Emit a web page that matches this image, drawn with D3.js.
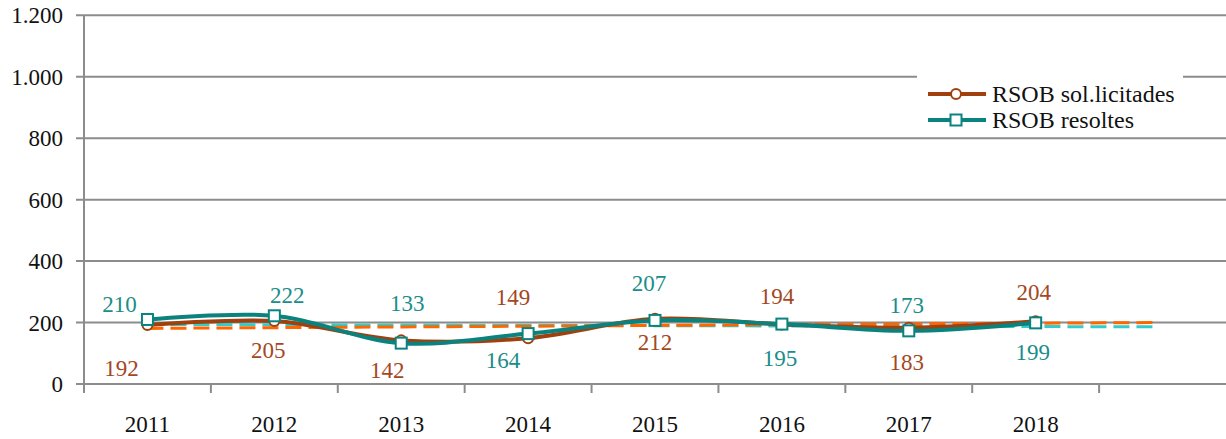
<!DOCTYPE html>
<html><head><meta charset="utf-8">
<script src="https://cdn.jsdelivr.net/npm/d3@7"></script>
</head><body style="margin:0;background:#fff"><svg id="c" width="1226" height="439" style="display:block"></svg>
<script>
const categories = ["2011","2012","2013","2014","2015","2016","2017","2018"];
const solValues = [192,205,142,149,212,194,183,204];
const resValues = [210,222,133,164,207,195,173,199];
const yTicks = [0,200,400,600,800,1000,1200];
const yTickLabels = ["0","200","400","600","800","1.000","1.200"];
const seriesNames = ["RSOB sol.licitades","RSOB resoltes"];
// trend lines: value at first category and at one period beyond last
const solTrend = [181,200];
const resTrend = [194,186];
// label placement offsets (layout, px)
const solLabelDx = [-26,-6,-14,-15,0,-5,-2,-2];
const solLabelDy = [43,29,30,-41,23,-28,34,-29];
const resLabelDx = [-28,13,6,-25,-6,-2,-2,-3];
const resLabelDy = [-15,-21,-40,26,-37,34,-26,29];

const FF = "Liberation Serif";
const svg = d3.select("#c");
const L=84, R=1226, T=15.3, B=384;
const slots = categories.concat([""]);
const x = d3.scaleBand().domain(slots).range([L,R]);
const cx = c => x(c)+x.bandwidth()/2;
const y = d3.scaleLinear().domain([0,1200]).range([B,T]);
const grid="#8c8c8c";
const cSol="#a0400f", cRes="#0a837e", cSolLbl="#a3481f", cResLbl="#1b8d8a";
const FS = 23;
function txt(sel,size){ return sel.attr("font-family",FF).style("font-family","'Liberation Serif'").attr("font-size",size); }

svg.append("g").selectAll("line").data(yTicks).join("line")
  .attr("x1",L-8).attr("x2",R).attr("y1",d=>y(d)).attr("y2",d=>y(d))
  .attr("stroke",grid).attr("stroke-width",2);
svg.append("line").attr("x1",L).attr("x2",L).attr("y1",T).attr("y2",B+1).attr("stroke",grid).attr("stroke-width",2);
yTicks.forEach((d,i)=>{
  txt(svg.append("text"),FS).attr("x",63).attr("y",y(d)+8).attr("text-anchor","end").attr("fill","#111").text(yTickLabels[i]);
});
svg.append("g").selectAll("line").data(categories).join("line")
  .attr("x1",d=>x(d)+x.bandwidth()).attr("x2",d=>x(d)+x.bandwidth())
  .attr("y1",B).attr("y2",B+9).attr("stroke",grid).attr("stroke-width",2);
svg.append("line").attr("x1",L).attr("x2",L).attr("y1",B).attr("y2",B+9).attr("stroke",grid).attr("stroke-width",2);
categories.forEach(d=>{
  txt(svg.append("text"),FS).attr("x",cx(d)).attr("y",432).attr("text-anchor","middle").attr("fill","#111").text(d);
});

function trend(vals,color){
  svg.append("line").attr("x1",cx(categories[0])).attr("y1",y(vals[0]))
    .attr("x2",cx("")-6).attr("y2",y(vals[1]))
    .attr("stroke",color).attr("stroke-width",3).attr("stroke-dasharray","16,7");
}
trend(resTrend,"#33cccc");
trend(solTrend,"#ff6600");

const line = d3.line().x((d,i)=>cx(categories[i])).y(d=>y(d)).curve(d3.curveCatmullRom.alpha(0));
svg.append("path").attr("d",line(solValues)).attr("fill","none").attr("stroke",cSol).attr("stroke-width",4);
svg.append("g").selectAll("circle").data(solValues).join("circle")
  .attr("cx",(d,i)=>cx(categories[i])).attr("cy",d=>y(d)).attr("r",5)
  .attr("fill","#fff").attr("stroke",cSol).attr("stroke-width",2);
svg.append("path").attr("d",line(resValues)).attr("fill","none").attr("stroke",cRes).attr("stroke-width",4);
svg.append("g").selectAll("rect").data(resValues).join("rect")
  .attr("x",(d,i)=>cx(categories[i])-5.5).attr("y",d=>y(d)-5.5).attr("width",11).attr("height",11)
  .attr("fill","#fff").attr("stroke",cRes).attr("stroke-width",2);

solValues.forEach((d,i)=>{
  txt(svg.append("text"),FS).attr("x",cx(categories[i])+solLabelDx[i]).attr("y",y(d)+solLabelDy[i]+8)
    .attr("text-anchor","middle").attr("fill",cSolLbl).text(d);
});
resValues.forEach((d,i)=>{
  txt(svg.append("text"),FS).attr("x",cx(categories[i])+resLabelDx[i]).attr("y",y(d)+resLabelDy[i]+8)
    .attr("text-anchor","middle").attr("fill",cResLbl).text(d);
});

svg.append("rect").attr("x",917).attr("y",68).attr("width",266).attr("height",68).attr("fill","#fff");
const items=[{n:seriesNames[0],c:cSol,s:"circle",yy:94},{n:seriesNames[1],c:cRes,s:"rect",yy:120}];
items.forEach(it=>{
  svg.append("line").attr("x1",928).attr("x2",986).attr("y1",it.yy).attr("y2",it.yy).attr("stroke",it.c).attr("stroke-width",4);
  if(it.s==="circle") svg.append("circle").attr("cx",956).attr("cy",it.yy).attr("r",5).attr("fill","#fff").attr("stroke",it.c).attr("stroke-width",2);
  else svg.append("rect").attr("x",950.5).attr("y",it.yy-5.5).attr("width",11).attr("height",11).attr("fill","#fff").attr("stroke",it.c).attr("stroke-width",2);
  txt(svg.append("text"),24).attr("x",992).attr("y",it.yy+8).attr("fill","#111").text(it.n);
});
</script></body></html>
